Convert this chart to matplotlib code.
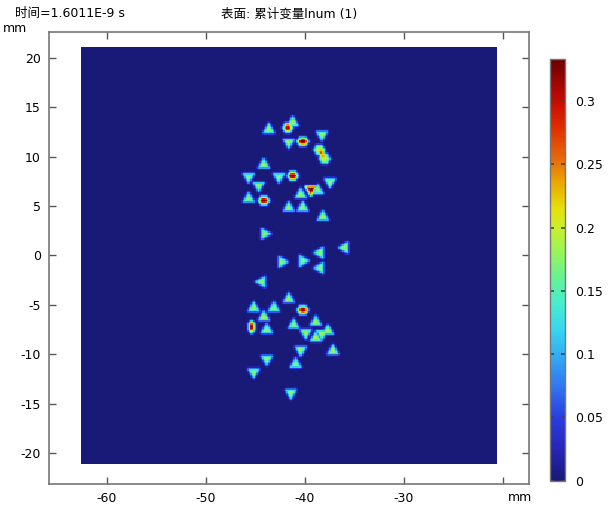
import numpy as np
import matplotlib
matplotlib.use('Agg')
import matplotlib.pyplot as plt
from matplotlib.colors import LinearSegmentedColormap, Normalize

# ---------------- data ----------------
title_left = "时间=1.6011E-9 s"
title_center = "表面: 累计变量lnum (1)"
unit = "mm"

domain_x = [-62.6, -20.6]
domain_y = [-21.1, 21.1]

x_ticks = [-60, -50, -40, -30, -20]
x_ticklabels = ["-60", "-50", "-40", "-30", ""]
y_ticks = [-20, -15, -10, -5, 0, 5, 10, 15, 20]
cb_ticks = [0, 0.05, 0.1, 0.15, 0.2, 0.25, 0.3]
cb_ticklabels = ["0", "0.05", "0.1", "0.15", "0.2", "0.25", "0.3"]
v_max = 0.333

# particle shapes: centre x, centre y, shape kind, level
shape_x = [-43.64, -41.21, -41.72, -38.28, -41.62, -40.20, -38.55, -38.00,
           -44.14, -45.66, -42.63, -41.21, -37.47, -44.65, -39.39, -38.69,
           -40.40, -45.66, -44.14, -41.62, -40.20, -38.18,
           -44.04, -35.96, -38.48, -40.20, -42.32, -38.48, -44.34,
           -41.62, -40.20, -45.15, -43.13, -44.14, -45.35, -43.84, -41.11,
           -38.89, -39.90, -38.89, -38.28, -37.68, -40.40, -37.17, -43.84,
           -40.91, -45.15, -41.41]
shape_y = [12.71, 13.42, 12.91, 12.20, 11.39, 11.49, 10.65, 9.75,
           9.16, 7.95, 7.95, 8.05, 7.44, 7.04, 6.63, 6.53,
           6.13, 5.72, 5.52, 4.81, 4.81, 3.90,
           2.18, 0.76, 0.25, -0.56, -0.66, -1.27, -2.68,
           -4.41, -5.52, -5.32, -5.32, -6.23, -7.24, -7.54, -7.04,
           -6.73, -7.85, -8.35, -7.95, -7.65, -9.57, -9.67, -10.48,
           -10.99, -11.80, -13.92]
shape_kind = ["up", "up", "hex", "down", "down", "hex", "hex", "hex",
              "up", "down", "down", "hex", "down", "down", "down", "up",
              "up", "up", "hex", "up", "up", "up",
              "right", "left", "left", "right", "right", "left", "left",
              "up", "hex", "up", "up", "up", "vhex", "up", "up",
              "up", "down", "up", "down", "up", "down", "up", "down",
              "up", "down", "down"]
shape_level = [0.185, 0.185, 0.185, 0.18, 0.18, 0.19, 0.185, 0.185,
               0.18, 0.18, 0.18, 0.19, 0.18, 0.18, 0.33, 0.18,
               0.18, 0.18, 0.19, 0.18, 0.18, 0.18,
               0.18, 0.18, 0.18, 0.18, 0.18, 0.18, 0.18,
               0.18, 0.19, 0.18, 0.18, 0.18, 0.185, 0.18, 0.18,
               0.18, 0.18, 0.185, 0.185, 0.185, 0.18, 0.18, 0.18,
               0.18, 0.18, 0.18]

# hot spots: centre x, centre y, amplitude, sigma x, sigma y
spot_x = [-41.72, -40.20, -38.28, -41.21, -44.14, -40.20, -45.35]
spot_y = [12.91, 11.49, 10.25, 8.05, 5.52, -5.52, -7.24]
spot_amp = [0.13, 0.15, 0.13, 0.15, 0.15, 0.14, 0.15]
spot_sx = [0.25, 0.36, 0.22, 0.34, 0.34, 0.34, 0.14]
spot_sy = [0.25, 0.18, 0.25, 0.18, 0.18, 0.17, 0.34]

# colour map stops (value, colour)
cmap_vals = [0.0, 0.025, 0.05, 0.075, 0.10, 0.12, 0.14, 0.16, 0.18, 0.20,
             0.215, 0.235, 0.255, 0.28, 0.30, 0.333]
cmap_cols = [(25, 25, 120), (38, 38, 185), (42, 62, 228), (50, 120, 240),
             (50, 175, 245), (55, 215, 240), (70, 238, 205), (100, 242, 150),
             (150, 245, 90), (200, 240, 40), (230, 225, 10), (235, 170, 0),
             (230, 105, 10), (225, 45, 0), (200, 10, 0), (110, 0, 0)]

# ---------------- field construction ----------------
angles_by_kind = {
    "up": [90, 210, 330], "down": [270, 30, 150],
    "left": [180, 300, 60], "right": [0, 120, 240],
    "hex": [0, 60, 120, 180, 240, 300], "vhex": [30, 90, 150, 210, 270, 330],
}
radius_by_kind = {"up": 0.56, "down": 0.56, "left": 0.56, "right": 0.56,
                  "hex": 0.48, "vhex": 0.45}

step = 0.15
xs = np.arange(domain_x[0] + step / 2, domain_x[1], step)
ys = np.arange(domain_y[0] + step / 2, domain_y[1], step)
X, Y = np.meshgrid(xs, ys)
field = np.zeros_like(X)


def signed_distance(px, py, verts):
    n = len(verts)
    dmin = np.full(px.shape, np.inf)
    inside = np.ones(px.shape, dtype=bool)
    for i in range(n):
        ax, ay = verts[i]
        bx, by = verts[(i + 1) % n]
        ex, ey = bx - ax, by - ay
        wx, wy = px - ax, py - ay
        t = np.clip((wx * ex + wy * ey) / (ex * ex + ey * ey), 0, 1)
        dx, dy = wx - t * ex, wy - t * ey
        dmin = np.minimum(dmin, np.hypot(dx, dy))
        cross = ex * wy - ey * wx
        inside &= cross >= 0
    return np.where(inside, -dmin, dmin)


for cx, cy, kind, lev in zip(shape_x, shape_y, shape_kind, shape_level):
    R = radius_by_kind[kind]
    if kind == "vhex":
        verts = [(cx + 0.34 * np.cos(np.radians(a)), cy + 0.6 * np.sin(np.radians(a)))
                 for a in angles_by_kind[kind]]
    else:
        verts = [(cx + R * np.cos(np.radians(a)), cy + R * np.sin(np.radians(a)))
                 for a in angles_by_kind[kind]]
    d = signed_distance(X, Y, verts)
    t = np.clip((0.36 - d) / 0.6, 0, 1)
    f = t * t * (3 - 2 * t)
    field = np.maximum(field, lev * f)

for sx0, sy0, a, sgx, sgy in zip(spot_x, spot_y, spot_amp, spot_sx, spot_sy):
    field += a * np.exp(-0.5 * (((X - sx0) / sgx) ** 2 + ((Y - sy0) / sgy) ** 2))

field = np.clip(field, 0, v_max)

cmap = LinearSegmentedColormap.from_list(
    "comsol_rainbow",
    [(v / v_max, tuple(c / 255 for c in col)) for v, col in zip(cmap_vals, cmap_cols)])

# ---------------- figure ----------------
W, H = 616, 511
fig = plt.figure(figsize=(W / 100, H / 100), dpi=100)
ax = fig.add_axes([49 / W, 1 - 484 / H, (528.5 - 49) / W, (484 - 32) / H])

norm = Normalize(vmin=0, vmax=v_max)
im = ax.imshow(field, origin="lower", cmap=cmap, norm=norm,
               extent=[domain_x[0], domain_x[1], domain_y[0], domain_y[1]],
               interpolation="nearest", aspect="auto")

ax.set_xlim(-65.86, -17.42)
ax.set_ylim(-23.14, 22.63)
ax.set_xticks(x_ticks)
ax.set_xticklabels(x_ticklabels)
ax.set_yticks(y_ticks)
ax.set_yticklabels([str(v) for v in y_ticks])
ax.tick_params(direction="in", length=5, width=1, color="#555555",
               top=True, right=True, labelsize=9, pad=6)
for sp in ax.spines.values():
    sp.set_color("#777777")
    sp.set_linewidth(1.2)

cax = fig.add_axes([550 / W, 1 - 480.7 / H, 15 / W, (480.7 - 59.3) / H])
cb = fig.colorbar(im, cax=cax, ticks=cb_ticks)
cb.ax.set_yticklabels(cb_ticklabels)
cb.ax.tick_params(direction="in", length=3, width=1.2, color="#444444",
                  left=True, right=True, labelsize=9, pad=7)
cb.outline.set_edgecolor("#777777")
cb.outline.set_linewidth(1.0)

fam = ["DejaVu Sans", "Noto Sans CJK SC"]
fig.text(15 / W, 1 - 14 / H, title_left, ha="left", va="center", fontsize=9, family=fam)
fig.text(289 / W, 1 - 14 / H, title_center, ha="center", va="center", fontsize=9, family=fam)
fig.text(3 / W, 1 - 28 / H, unit, ha="left", va="center", fontsize=9)
fig.text(508 / W, 1 - 497 / H, unit, ha="left", va="center", fontsize=9)

fig.savefig("out.png", dpi=100)
